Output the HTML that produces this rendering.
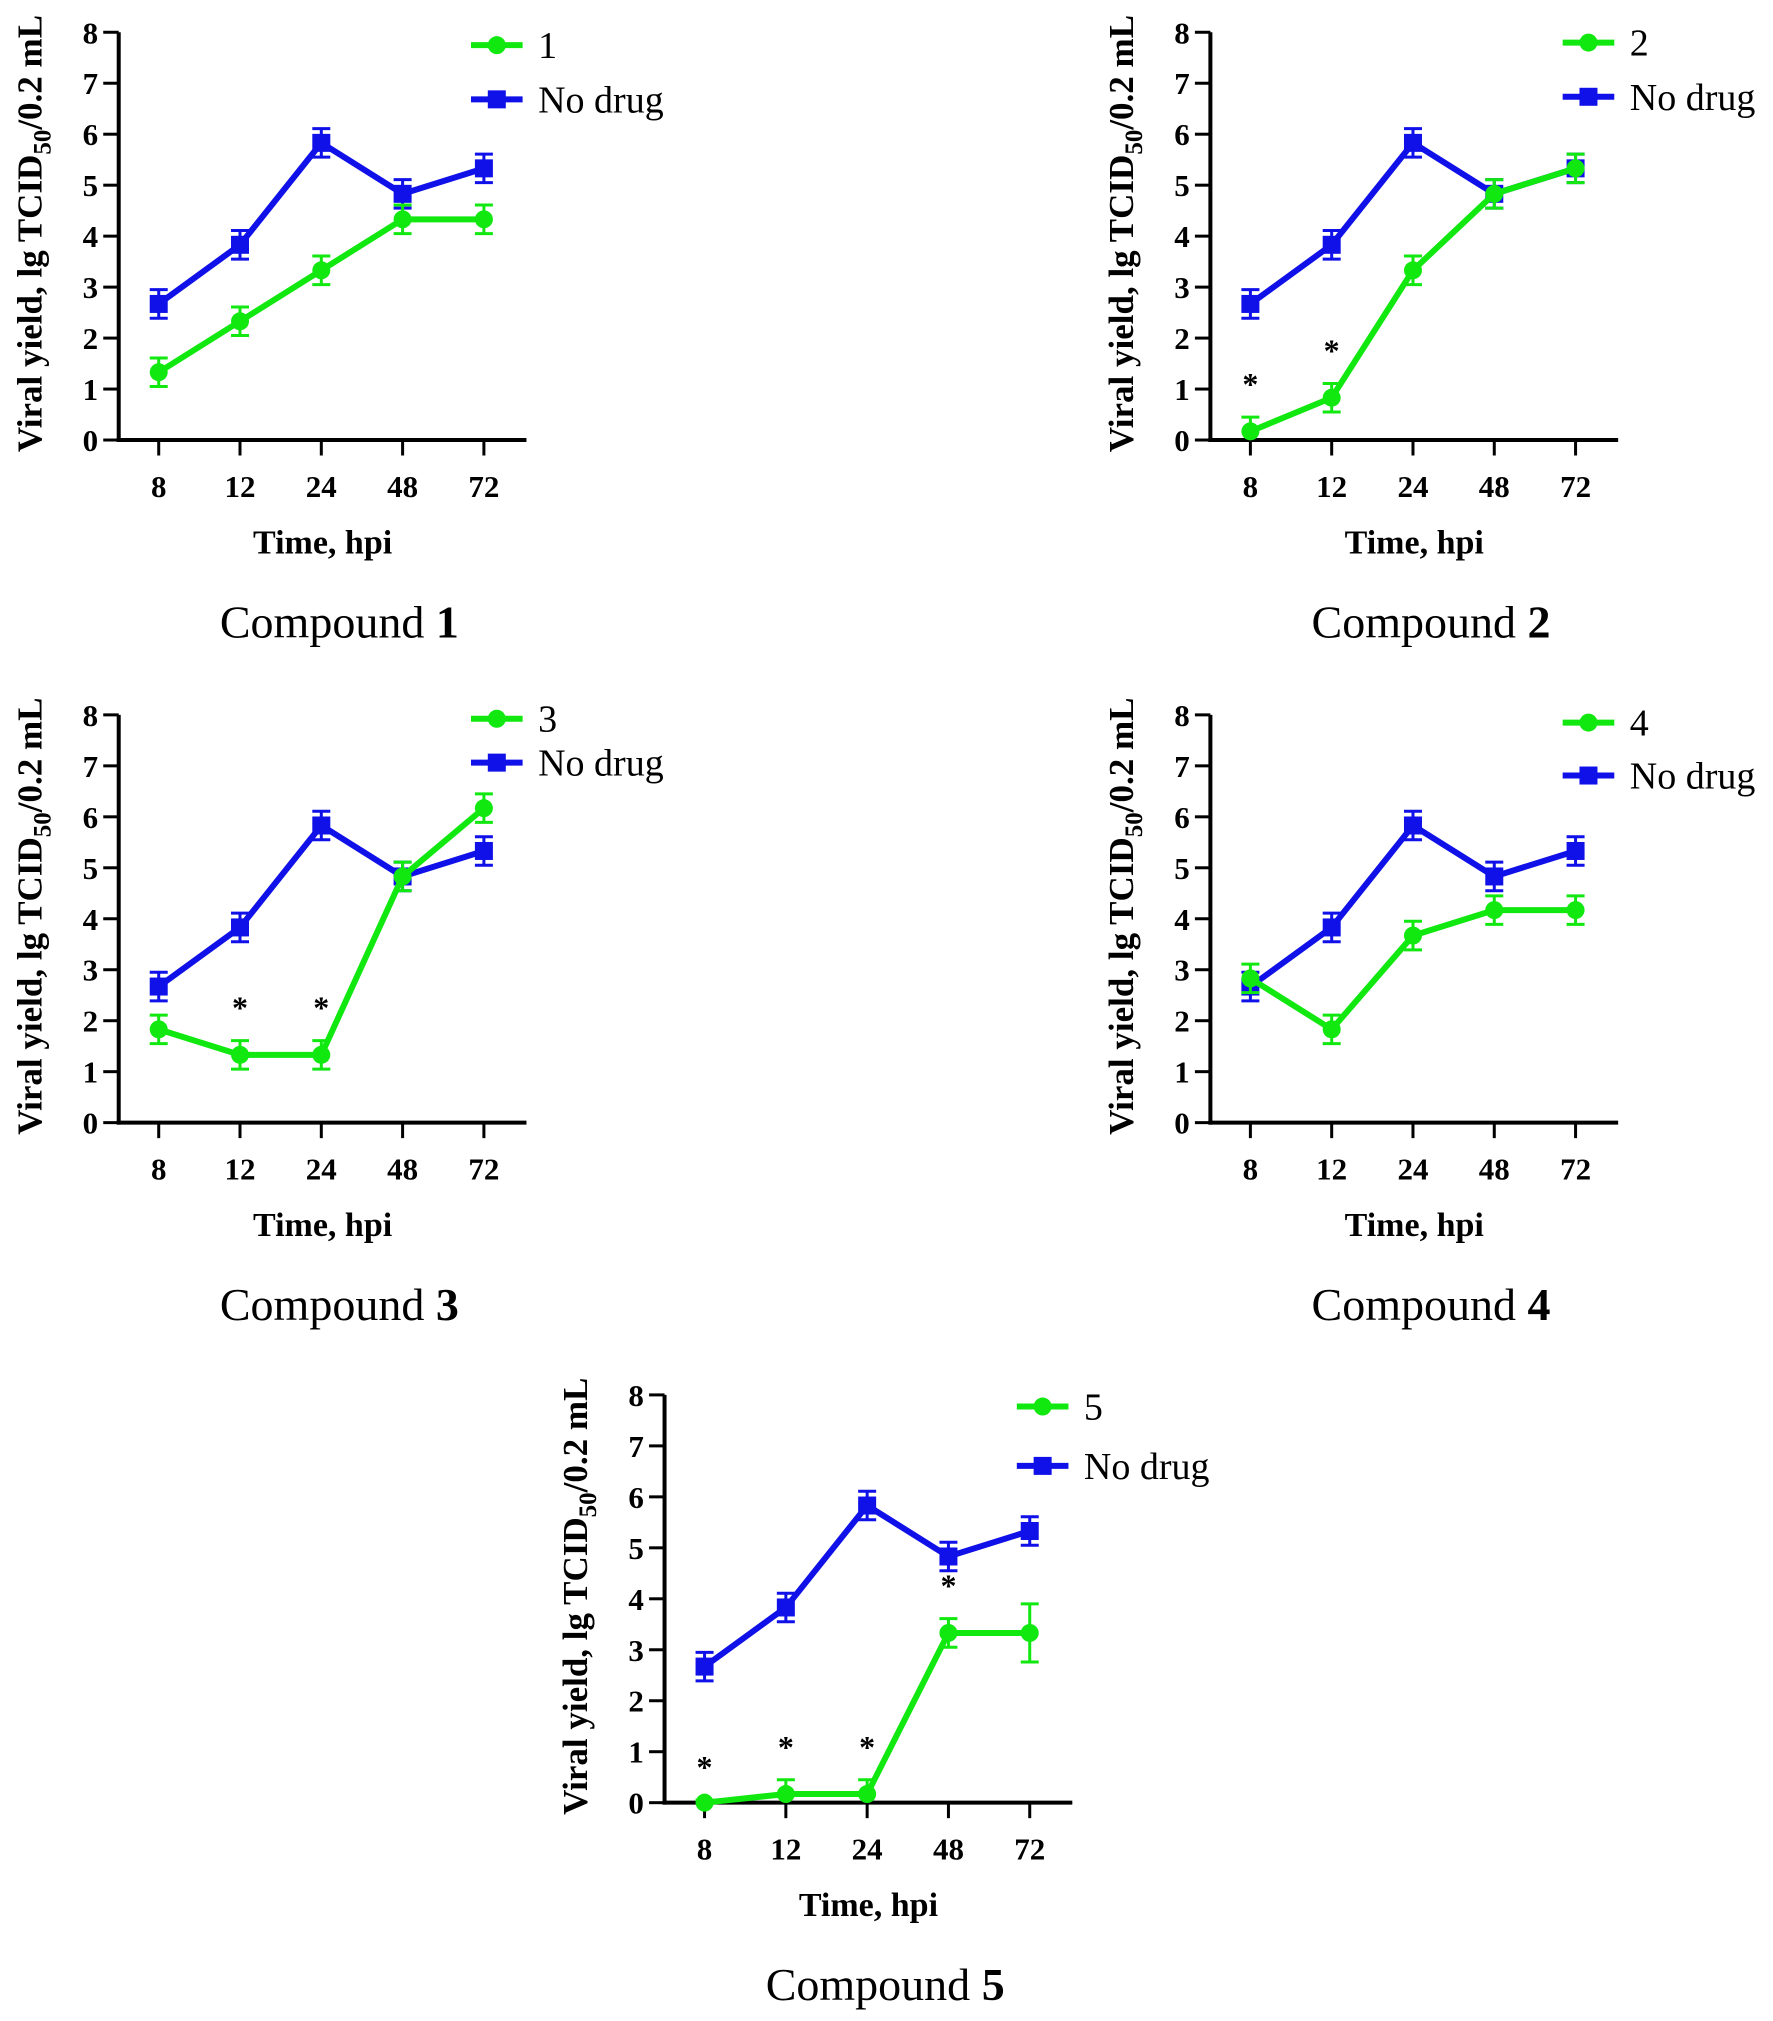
<!DOCTYPE html>
<html><head><meta charset="utf-8"><style>
html,body{margin:0;padding:0;background:#fff}
svg{display:block;font-family:"Liberation Serif",serif}
</style></head><body>
<svg id="chart" width="1773" height="2021" viewBox="0 0 1773 2021" xmlns="http://www.w3.org/2000/svg"></svg>
<script>
const categories = ["8","12","24","48","72"];
const yTicks = [0,1,2,3,4,5,6,7,8];
const noDrug = [2.67,3.83,5.83,4.83,5.33];
const noDrugErr = [0.28,0.28,0.28,0.28,0.28];
const comp1 = [1.33,2.33,3.33,4.33,4.33];
const comp2 = [0.17,0.83,3.33,4.83,5.33];
const comp3 = [1.83,1.33,1.33,4.83,6.17];
const comp4 = [2.83,1.83,3.67,4.17,4.17];
const comp5 = [0,0.17,0.17,3.33,3.33];
const err1 = [0.28,0.28,0.28,0.28,0.28];
const err2 = [0.28,0.28,0.28,0.28,0.28];
const err3 = [0.28,0.28,0.28,0.28,0.28];
const err4 = [0.28,0.28,0.28,0.28,0.28];
const err5 = [0.05,0.28,0.28,0.28,0.57];
const stars1 = [];
const stars2 = [0,1];
const stars3 = [1,2];
const stars4 = [];
const stars5 = [0,1,2,3];
const labels = ["1","2","3","4","5"];

const S = 1773/1374;
const NS = "http://www.w3.org/2000/svg";
const svg = document.getElementById('chart');
function mk(tag, attrs, parent){const e=document.createElementNS(NS,tag);for(const k in attrs)e.setAttribute(k,attrs[k]);(parent||svg).appendChild(e);return e;}

const panels = [
 {ox:92, oy:341, data:comp1, err:err1, stars:stars1, leg:[35,77]},
 {ox:938, oy:341, data:comp2, err:err2, stars:stars2, leg:[33,75]},
 {ox:92, oy:870, data:comp3, err:err3, stars:stars3, leg:[557,591]},
 {ox:938, oy:870, data:comp4, err:err4, stars:stars4, leg:[560,601]},
 {ox:515, oy:1397, data:comp5, err:err5, stars:stars5, leg:[1090,1136]}
];

panels.forEach((p,pi)=>{
  const ox=p.ox*S, oy=p.oy*S, unit=39.5*S, dx=63*S;
  const g = mk('g',{});
  
  
  const yS = v=>oy - v*unit;
  const xS = i=>ox + 31*S + i*dx;
  const ya = mk('line',{x1:ox,y1:yS(8),x2:ox,y2:oy+2,stroke:'#000','stroke-width':4},g);
  
  
  const xa = mk('line',{x1:ox-2,y1:oy,x2:ox+316*S,y2:oy,stroke:'#000','stroke-width':4},g);
  
  
  yTicks.forEach(t=>{
    mk('line',{x1:ox-12*S,y1:yS(t),x2:ox,y2:yS(t),stroke:'#000','stroke-width':3},g);
    const tl=mk('text',{x:ox-16*S,y:yS(t)+11,'text-anchor':'end','font-size':31,'font-weight':'bold'},g);
    tl.textContent=t;
    
    
  });
  categories.forEach((c,i)=>{
    mk('line',{x1:xS(i),y1:oy,x2:xS(i),y2:oy+12*S,stroke:'#000','stroke-width':3},g);
    const tl=mk('text',{x:xS(i),y:oy+44*S,'text-anchor':'middle','font-size':31,'font-weight':'bold'},g);
    tl.textContent=c;
    
    
  });
  const xt=mk('text',{x:ox+158*S,y:oy+88*S,'text-anchor':'middle','font-size':34,'font-weight':'bold'},g);
  xt.textContent='Time, hpi';
  
  
  const cx=ox-60*S, cy=oy-160*S;
  const yt=mk('text',{x:cx,y:cy,'text-anchor':'middle','font-size':35,'font-weight':'bold',transform:`rotate(-90 ${cx} ${cy})`},g);
  yt.innerHTML='Viral yield, lg TCID<tspan font-size="25" dy="9">50</tspan><tspan dy="-9">/0.2 mL</tspan>';
  
  
  const ct=mk('text',{x:ox+171*S,y:oy+153*S,'text-anchor':'middle','font-size':46},g);
  ct.innerHTML='Compound <tspan font-weight="bold">'+labels[pi]+'</tspan>';
  
  

  function series(vals, errs, color, marker, name){
    const sg=mk('g',{},g);
    
    
    vals.forEach((v,i)=>{
      const x=xS(i), e=errs[i];
      mk('line',{x1:x,y1:yS(v+e),x2:x,y2:yS(Math.max(0,v-e)),stroke:color,'stroke-width':3},sg);
      mk('line',{x1:x-9,y1:yS(v+e),x2:x+9,y2:yS(v+e),stroke:color,'stroke-width':3},sg);
      if(v-e>0) mk('line',{x1:x-9,y1:yS(v-e),x2:x+9,y2:yS(v-e),stroke:color,'stroke-width':3},sg);
    });
    mk('polyline',{points:vals.map((v,i)=>xS(i)+','+yS(v)).join(' '),fill:'none',stroke:color,'stroke-width':6},sg);
    vals.forEach((v,i)=>{
      const m = marker==='c'? mk('circle',{cx:xS(i),cy:yS(v),r:9,fill:color},sg)
        : mk('rect',{x:xS(i)-9,y:yS(v)-9,width:18,height:18,fill:color},sg);
      
      
    });
  }
  series(noDrug,noDrugErr,'#1010e8','s','series-no-drug');
  series(p.data,p.err,'#10e810','c','series-compound');
  p.stars.forEach(i=>{
    const st=mk('text',{x:xS(i),y:yS(p.data[i]+p.err[i])-17*S,'text-anchor':'middle','font-size':32,'font-weight':'bold'},g);
    st.textContent='*';
    
    
  });
  const lx=ox+273*S;
  [[p.leg[0],'#10e810','c',labels[pi]],[p.leg[1],'#1010e8','s','No drug']].forEach((L,j)=>{
    const ly=L[0]*S;
    const lg=mk('g',{},g);
    
    
    mk('line',{x1:lx,y1:ly,x2:lx+40*S,y2:ly,stroke:L[1],'stroke-width':6},lg);
    if(L[2]==='c') mk('circle',{cx:lx+20*S,cy:ly,r:9,fill:L[1]},lg);
    else mk('rect',{x:lx+20*S-9,y:ly-9,width:18,height:18,fill:L[1]},lg);
    const t=mk('text',{x:lx+52*S,y:ly+13,'font-size':38},lg);
    t.textContent=L[3];
  });
});
</script>
</body></html>
